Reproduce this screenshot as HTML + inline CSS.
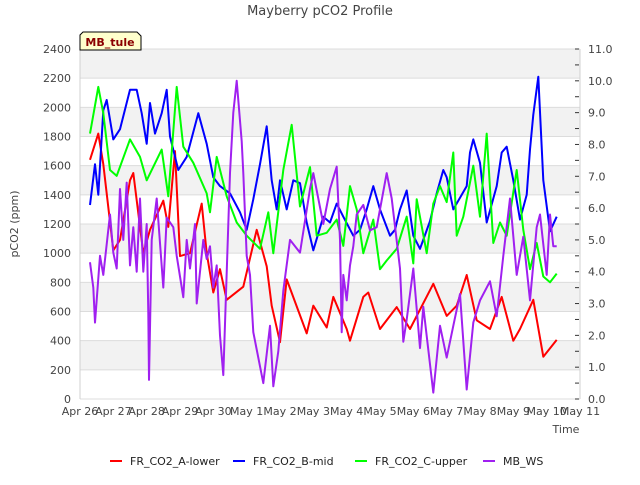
<!DOCTYPE html>
<html><head><meta charset="utf-8"><style>
body{margin:0;background:#fff;font-family:"Liberation Sans","DejaVu Sans",sans-serif;}
svg text{font-family:"DejaVu Sans","Liberation Sans",sans-serif;}
</style></head><body>
<svg id="c" width="640" height="480" xmlns="http://www.w3.org/2000/svg">
<text x="320" y="15" text-anchor="middle" font-size="13" fill="#444">Mayberry pCO2 Profile</text>
<g id="bands"></g><g id="axes"></g><g id="series"></g>
<g>
<path d="M80,50 L80,35 L83,32 L137,32 L141,36 L141,50 Z" fill="#ffffcc" stroke="#000" stroke-width="1"/>
<text x="110" y="46" text-anchor="middle" font-size="11" font-weight="bold" fill="#8b0000">MB_tule</text></g>
<text x="566" y="433" text-anchor="middle" font-size="11" fill="#444">Time</text>
<text transform="translate(18,224) rotate(-90)" text-anchor="middle" font-size="11" fill="#444">pCO2 (ppm)</text>
<g id="legend"></g>
</svg>
<script>
const xLabels=["Apr 26","Apr 27","Apr 28","Apr 29","Apr 30","May 1","May 2","May 3","May 4","May 5","May 6","May 7","May 8","May 9","May 10","May 11"];
const yTicks=[0,200,400,600,800,1000,1200,1400,1600,1800,2000,2200,2400];
const y2Ticks=[0,1,2,3,4,5,6,7,8,9,10,11];
const redT=[0.3,0.55,0.7,1.0,1.2,1.5,1.6,1.9,2.1,2.5,2.65,2.85,3.0,3.3,3.65,3.8,4.0,4.2,4.4,4.9,5.3,5.6,5.75,6.0,6.2,6.8,7.0,7.4,7.6,8.0,8.1,8.5,8.65,9.0,9.5,9.9,10.6,11.0,11.3,11.6,11.9,12.3,12.65,13.0,13.2,13.6,13.9,14.3];
const redV=[1640,1820,1610,1020,1090,1500,1550,1000,1160,1360,1180,1700,980,1000,1340,1000,730,890,680,770,1160,910,640,390,820,450,640,490,700,480,400,700,730,480,630,480,790,570,640,850,540,480,700,400,480,680,290,405];
const blueT=[0.3,0.45,0.55,0.7,0.8,1.0,1.2,1.5,1.7,1.85,2.0,2.1,2.25,2.45,2.6,2.7,2.95,3.2,3.55,3.8,4.0,4.2,4.5,4.8,5.0,5.2,5.4,5.6,5.75,5.9,6.0,6.2,6.4,6.6,6.8,7.0,7.3,7.5,7.7,7.9,8.2,8.4,8.6,8.8,9.0,9.3,9.45,9.6,9.8,10.0,10.2,10.5,10.7,10.9,11.0,11.2,11.6,11.7,11.8,12.0,12.2,12.5,12.65,12.8,13.0,13.2,13.4,13.5,13.6,13.75,13.9,14.1,14.3];
const blueV=[1330,1610,1400,1980,2050,1780,1850,2120,2120,1960,1750,2030,1820,1960,2120,1800,1570,1660,1960,1750,1520,1460,1410,1280,1160,1370,1610,1870,1500,1300,1500,1300,1500,1480,1210,1020,1250,1210,1340,1250,1120,1160,1300,1460,1300,1120,1160,1300,1430,1120,1030,1220,1410,1570,1520,1300,1460,1690,1780,1620,1210,1460,1690,1730,1500,1230,1400,1710,1950,2210,1500,1150,1250,1320];
const greenT=[0.3,0.55,0.7,0.9,1.1,1.5,1.8,2.0,2.45,2.65,2.9,3.1,3.4,3.8,3.9,4.1,4.4,4.7,5.0,5.4,5.65,5.8,6.1,6.35,6.6,6.9,7.1,7.4,7.7,7.9,8.1,8.3,8.5,8.8,9.0,9.2,9.5,9.8,10.0,10.1,10.4,10.6,10.8,11.0,11.2,11.3,11.5,11.8,12.0,12.2,12.4,12.6,12.8,13.1,13.3,13.5,13.7,13.9,14.1,14.3];
const greenV=[1820,2140,1960,1570,1530,1780,1660,1500,1710,1390,2140,1730,1620,1410,1280,1660,1390,1210,1120,1030,1280,1000,1570,1880,1320,1590,1120,1140,1230,1050,1460,1300,1000,1230,890,950,1030,1250,930,1370,1000,1340,1460,1350,1690,1120,1250,1600,1250,1820,1070,1210,1120,1570,1160,890,1070,840,800,860];
const wsT=[0.3,0.4,0.45,0.6,0.7,0.9,1.0,1.1,1.2,1.3,1.4,1.5,1.6,1.7,1.8,1.9,2.0,2.05,2.07,2.15,2.3,2.5,2.6,2.8,2.9,3.1,3.2,3.3,3.45,3.5,3.7,3.8,3.9,4.0,4.1,4.2,4.3,4.5,4.6,4.7,4.85,4.9,5.0,5.1,5.2,5.5,5.7,5.8,5.95,6.1,6.3,6.6,6.9,7.0,7.3,7.5,7.7,7.8,7.85,7.9,8.0,8.1,8.2,8.3,8.5,8.7,8.9,9.2,9.35,9.6,9.7,9.8,10.0,10.2,10.3,10.6,10.8,11.0,11.2,11.4,11.6,11.8,12.0,12.3,12.5,12.7,12.9,13.1,13.3,13.5,13.7,13.8,14.0,14.1,14.2,14.3];
const wsV=[4.3,3.5,2.4,4.5,3.9,5.8,4.6,4.1,6.6,5.0,6.8,4.2,5.4,4.0,6.3,4.0,5.5,2.7,0.6,5.0,6.3,3.5,5.7,5.4,4.5,3.2,5.0,4.1,5.5,3.0,5.0,4.4,4.8,3.5,4.2,2.0,0.75,7.1,9.0,10.0,8.1,7.1,4.5,3.9,2.1,0.5,2.3,0.4,1.5,3.4,5.0,4.6,6.6,7.1,5.5,6.6,7.3,5.0,2.1,3.9,3.1,4.2,4.8,5.8,6.1,5.3,5.4,7.1,6.3,4.1,1.8,2.5,4.1,1.6,2.9,0.2,2.3,1.3,2.3,3.3,0.3,2.4,3.1,3.7,2.6,4.5,6.3,3.9,5.1,3.1,5.4,5.8,3.9,5.8,4.8,4.8];

const L=80,R=580,T=49,B=399,NS="http://www.w3.org/2000/svg";
const xS=d=>L+d*(R-L)/15, yS=v=>B-v*(B-T)/2400, y2S=v=>B-v*(B-T)/11;
function mk(tag,attrs,parent,txt){const e=document.createElementNS(NS,tag);for(const k in attrs)e.setAttribute(k,attrs[k]);if(txt!==undefined)e.textContent=txt;parent.appendChild(e);return e;}
const bands=document.getElementById('bands'),axes=document.getElementById('axes'),ser=document.getElementById('series'),leg=document.getElementById('legend');
for(let i=0;i<yTicks.length-1;i++){
  const top=yS(yTicks[i+1]),bot=yS(yTicks[i]);
  const b=mk('rect',{x:L,y:top,width:R-L,height:bot-top,fill:(i%2==1)?'#f2f2f2':'#ffffff'},bands);
  
  
}
yTicks.forEach(v=>{
  const g=mk('line',{x1:L,x2:R,y1:yS(v),y2:yS(v),stroke:'#dcdcdc','stroke-width':1},axes);
  
  
  const t=mk('text',{x:L-9,y:yS(v)+4,'text-anchor':'end','font-size':11,fill:'#444'},axes,String(v));
  
  
});
mk('line',{x1:L,x2:L,y1:T,y2:B,stroke:'#d0d0d0'},axes);
mk('line',{x1:R,x2:R,y1:T,y2:B,stroke:'#d0d0d0'},axes);
for(let h=0;h<=22;h++){const v=h/2;mk('line',{x1:R-5,x2:R-1,y1:y2S(v),y2:y2S(v),stroke:'#333'},axes);}
y2Ticks.forEach(v=>{
  const t=mk('text',{x:R+8,y:y2S(v)+4,'font-size':11,fill:'#444'},axes,v.toFixed(1));
  
  
});
xLabels.forEach((s,i)=>{
  const t=mk('text',{x:xS(i),y:415,'text-anchor':'middle','font-size':11,fill:'#444'},axes,s);
  
  
});
function line(ts,vs,sc,col,name){
  const p=mk('polyline',{points:ts.map((t,i)=>xS(t).toFixed(1)+','+sc(vs[i]).toFixed(1)).join(' '),fill:'none',stroke:col,'stroke-width':2,'stroke-linejoin':'round'},ser);
  
  
}
line(redT,redV,yS,'#ff0000','series-fr-co2-a-lower');
line(blueT,blueV,yS,'#0000ff','series-fr-co2-b-mid');
line(greenT,greenV,yS,'#00ff00','series-fr-co2-c-upper');
line(wsT,wsV,y2S,'#a020f0','series-mb-ws');
const legItems=[['FR_CO2_A-lower','#ff0000',110],['FR_CO2_B-mid','#0000ff',233],['FR_CO2_C-upper','#00ff00',355],['MB_WS','#a020f0',483]];
legItems.forEach(([n,c,x])=>{
  const g=mk('g',{},leg);
  
  
  mk('line',{x1:x,x2:x+12,y1:461,y2:461,stroke:c,'stroke-width':2},g);
  mk('text',{x:x+20,y:465,'font-size':11,fill:'#222'},g,n);
});
</script>
</body></html>
